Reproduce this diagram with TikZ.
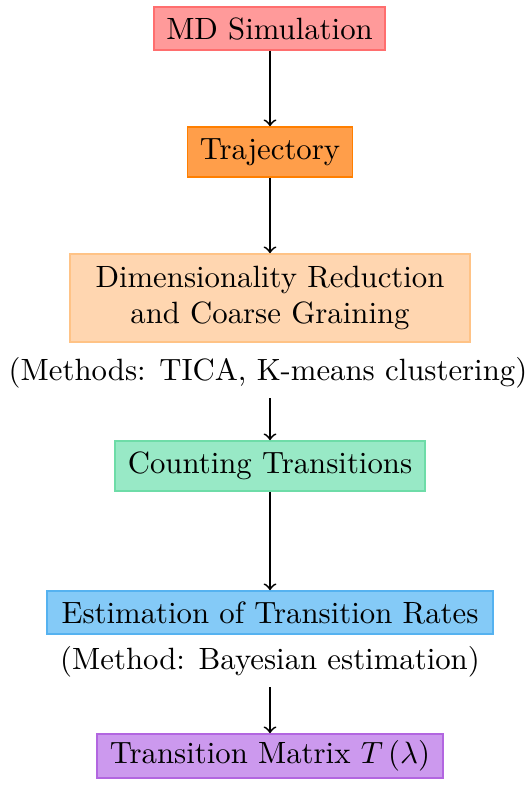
\documentclass[tikz,border=0pt]{standalone}
\usetikzlibrary{positioning}
\newdimen\pxu \pxu=0.325pt
\definecolor{mdfill}{HTML}{FF9A9A}
\definecolor{mddraw}{HTML}{FF6E6E}
\definecolor{trfill}{HTML}{FF9E4A}
\definecolor{trdraw}{HTML}{FF7F00}
\definecolor{dimfill}{HTML}{FFD6B0}
\definecolor{dimdraw}{HTML}{FFC386}
\definecolor{cofill}{HTML}{98E9C6}
\definecolor{codraw}{HTML}{6EDCA8}
\definecolor{esfill}{HTML}{84CAF7}
\definecolor{esdraw}{HTML}{55B2F0}
\definecolor{tmfill}{HTML}{CC99EE}
\definecolor{tmdraw}{HTML}{B266E0}
\tikzset{
  box/.style={draw, line width=0.5pt, inner sep=0pt, align=center},
  note/.style={inner sep=3pt},
  flow/.style={->, line width=0.6pt},
}
\begin{document}
\begin{tikzpicture}[x=0.325pt, y=0.325pt]
\useasboundingbox (0,0) rectangle (531,-785);
\node[box, fill=mdfill, draw=mddraw, minimum width=231\pxu, minimum height=43\pxu] (md) at (269.5,-28.5) {MD Simulation};
\node[box, fill=trfill, draw=trdraw, minimum width=165\pxu, minimum height=50\pxu] (tr) at (270,-152) {Trajectory};
\node[box, fill=dimfill, draw=dimdraw, minimum width=400\pxu, minimum height=88\pxu] (dim) at (270,-298) {Dimensionality Reduction\\and Coarse Graining};
\node[note] (meth) at (268,-373) {(Methods: TICA, K-means clustering)};
\node[box, fill=cofill, draw=codraw, minimum width=310\pxu, minimum height=50\pxu] (co) at (270,-466) {Counting Transitions};
\node[box, fill=esfill, draw=esdraw, minimum width=446\pxu, minimum height=43\pxu] (es) at (270,-612.5) {Estimation of Transition Rates};
\node[note] (meth2) at (270,-662) {(Method: Bayesian estimation)};
\node[box, fill=tmfill, draw=tmdraw, minimum width=346\pxu, minimum height=44\pxu] (tm) at (270,-756) {Transition Matrix $T\left(\lambda\right)$};
\draw[flow] (md.south -| tr) -- (tr.north);
\draw[flow] (tr) -- (dim);
\draw[flow] (meth.south -| co) -- (co.north);
\draw[flow] (co) -- (es);
\draw[flow] (meth2) -- (tm);
\end{tikzpicture}
\end{document}
